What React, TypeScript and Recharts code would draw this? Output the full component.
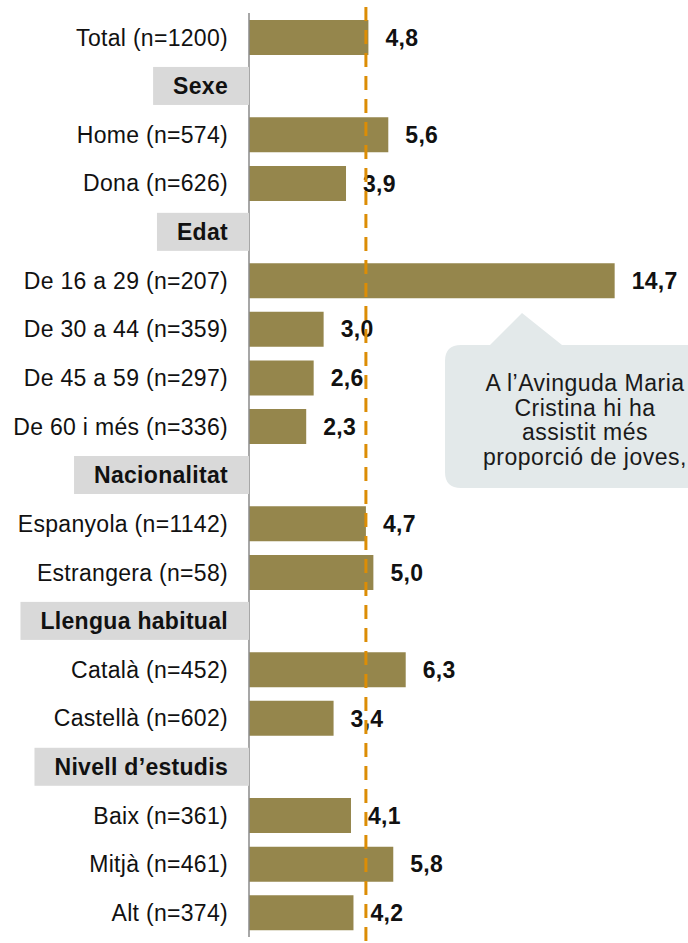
import { Bar, BarChart, LabelList, ReferenceLine, XAxis, YAxis } from "recharts";

const CATEGORIES = [
  "Total (n=1200)",
  "Sexe",
  "Home (n=574)",
  "Dona (n=626)",
  "Edat",
  "De 16 a 29 (n=207)",
  "De 30 a 44 (n=359)",
  "De 45 a 59 (n=297)",
  "De 60 i més (n=336)",
  "Nacionalitat",
  "Espanyola (n=1142)",
  "Estrangera (n=58)",
  "Llengua habitual",
  "Català (n=452)",
  "Castellà (n=602)",
  "Nivell d’estudis",
  "Baix (n=361)",
  "Mitjà (n=461)",
  "Alt (n=374)",
];
const VALUES = [4.8, null, 5.6, 3.9, null, 14.7, 3.0, 2.6, 2.3, null, 4.7, 5.0, null, 6.3, 3.4, null, 4.1, 5.8, 4.2];
const HEADERS = ["Sexe", "Edat", "Nacionalitat", "Llengua habitual", "Nivell d’estudis"];
const REFERENCE_VALUE = 4.7;
const X_DOMAIN = [0, 16];
const CALLOUT_LINES = ["A l’Avinguda Maria", "Cristina hi ha", "assistit més", "proporció de joves,"];

const FONT = "'Liberation Sans', Arial, sans-serif";
const BAR_COLOR = "#95864c";
const LINE_COLOR = "#dc8d05";
const FONT_SIZE = 23;
const SPACING = 0.3;

const data = CATEGORIES.map((name, i) => ({ name, value: VALUES[i] }));

let ctx: CanvasRenderingContext2D | null = null;
function textWidth(s: string, bold: boolean) {
  if (!ctx) ctx = document.createElement("canvas").getContext("2d");
  if (!ctx) return s.length * 12;
  ctx.font = `${bold ? "bold " : ""}${FONT_SIZE}px 'Liberation Sans', Arial, sans-serif`;
  return ctx.measureText(s).width + s.length * SPACING;
}

function CategoryTick(props: any) {
  const { x, y, payload } = props;
  const label = payload.value as string;
  if (HEADERS.includes(label)) {
    const w = textWidth(label, true);
    return (
      <g>
        <rect x={x - w - 20} y={y - 19} width={w + 41} height={38} fill="#d9d9d9" />
        <text x={x} y={y} dy="0.36em" textAnchor="end" fontFamily={FONT} fontSize={FONT_SIZE} fontWeight="bold" letterSpacing={SPACING} fill="#111">
          {label}
        </text>
      </g>
    );
  }
  return (
    <text x={x} y={y} dy="0.36em" textAnchor="end" fontFamily={FONT} fontSize={FONT_SIZE} letterSpacing={SPACING} fill="#111">
      {label}
    </text>
  );
}

function DashedLine(props: any) {
  const { x1, y1, x2, y2 } = props;
  return (
    <line x1={x1} x2={x2} y1={Math.min(y1, y2) - 6} y2={Math.max(y1, y2) + 6} stroke={LINE_COLOR} strokeWidth={3} strokeDasharray="14 9" />
  );
}

function Callout() {
  return (
    <svg width={688} height={943} style={{ position: "absolute", left: 0, top: 0, pointerEvents: "none" }}>
      <path d="M461 345 H490 L522 313 L562 345 H740 V488 H461 Q445 488 445 472 V361 Q445 345 461 345 Z" fill="#e3e9ea" />
      {CALLOUT_LINES.map((line, i) => (
        <text key={i} x={585} y={391 + i * 24.7} textAnchor="middle" fontFamily={FONT} fontSize={FONT_SIZE} letterSpacing={0.5} fill="#1a1a1a">
          {line}
        </text>
      ))}
    </svg>
  );
}

export default function App() {
  return (
    <div style={{ position: "absolute", left: 0, top: 0, width: 688, height: 943, background: "#fff" }}>
      <BarChart width={688} height={943} data={data} layout="vertical" margin={{ top: 13, right: 41, bottom: 6, left: 0 }}>
        <XAxis type="number" domain={X_DOMAIN} hide />
        <YAxis
          type="category"
          dataKey="name"
          width={249}
          interval={0}
          tickSize={0}
          tickMargin={21}
          tickLine={false}
          axisLine={{ stroke: "#8a8a8a", strokeWidth: 1.5 }}
          tick={<CategoryTick />}
        />
        <Bar dataKey="value" fill={BAR_COLOR} barSize={35} isAnimationActive={false}>
          <LabelList
            dataKey="value"
            position="right"
            offset={17}
            formatter={(v: any) => (v == null ? "" : Number(v).toFixed(1).replace(".", ","))}
            style={{ fontFamily: FONT, fontSize: FONT_SIZE, fontWeight: "bold", fill: "#111", letterSpacing: SPACING }}
          />
        </Bar>
        <ReferenceLine x={REFERENCE_VALUE} shape={<DashedLine />} zIndex={2500} />
      </BarChart>
      <Callout />
    </div>
  );
}
